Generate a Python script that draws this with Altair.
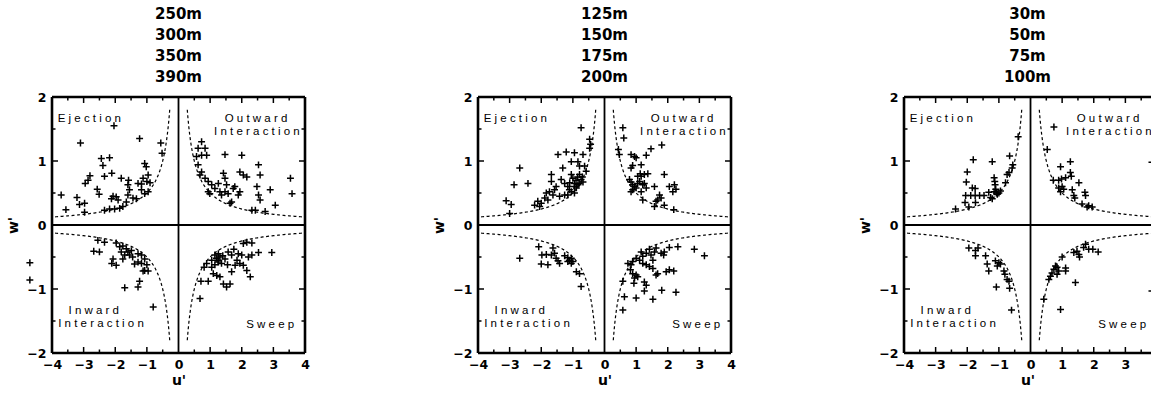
import altair as alt
import numpy as np
import pandas as pd

FONT = "DejaVu Sans"

titles = [["250m", "300m", "350m", "390m"],
          ["125m", "150m", "175m", "200m"],
          ["30m", "50m", "75m", "100m"]]

# ---------------- panel 1 (250-390 m) ----------------
u1 = [-3.71, -3.56, -3.21, -3.13, -2.97, -3.10, -2.97, -2.95, -2.86, -2.80, -2.57, -2.51, -2.44, -2.39, -2.18,
      -2.34, -2.04, -2.11, -2.34, -2.18, -2.02, -1.86, -1.76, -2.07, -1.97, -2.12, -1.91, -1.81, -1.65, -1.60,
      -1.55, -1.60, -1.58, -1.44, -1.33, -1.23, -1.28, -1.17, -1.07, -1.02, -1.12, -0.96, -1.17, -1.07, -0.96,
      -0.56, -0.52, -0.90, -1.00,
      0.73, 0.62, 0.84, 0.57, 0.73, 0.89, 1.47, 2.00, 0.62, 0.73, 0.68, 0.84, 0.94, 1.05, 0.94, 0.99, 1.26,
      1.15, 1.31, 1.42, 1.47, 1.36, 1.47, 1.57, 1.52, 1.73, 1.78, 1.63, 1.68, 1.89, 1.94, 1.94, 2.05, 2.16,
      2.32, 2.43, 2.74, 2.53, 2.58, 2.48, 2.53, 2.58, 2.90, 3.06, 3.54, 3.59,
      -2.55, -2.34, -2.68, -2.50, -1.97, -1.86, -1.76, -1.81, -1.70, -1.76, -2.07, -2.11, -1.97, -1.60, -1.49,
      -1.55, -1.28, -1.17, -1.07, -1.39, -1.28, -1.17, -1.07, -0.96, -1.23, -1.28, -1.70, -0.80, -1.65, -1.45,
      -1.00, -1.12,
      0.68, 0.71, 0.94, 0.81, 0.89, 1.05, 1.15, 1.26, 1.31, 1.10, 1.21, 1.31, 1.42, 1.52, 1.63, 1.47, 1.57,
      1.68, 1.68, 1.79, 1.89, 2.00, 2.05, 2.16, 2.32, 1.94, 2.05, 2.16, 2.27, 2.21, 2.32, 2.53, 2.95, 1.26,
      1.36, 1.05, 1.20, 1.25, 1.15, 1.40, 1.55, 1.85, 1.75,
      -4.70, -4.70]
w1 = [0.47, 0.24, 0.43, 0.32, 0.34, 1.28, 0.20, 0.65, 0.70, 0.77, 0.56, 0.48, 1.04, 0.93, 1.05,
      0.76, 1.55, 0.81, 0.23, 0.25, 0.25, 0.26, 0.29, 0.45, 0.44, 0.41, 0.39, 0.73, 0.36, 0.47,
      0.55, 0.63, 0.70, 0.42, 0.41, 1.35, 0.65, 0.64, 0.96, 0.91, 0.73, 0.78, 0.55, 0.49, 0.52,
      1.28, 1.12, 0.66, 0.68,
      1.30, 1.20, 1.20, 1.07, 1.09, 1.09, 1.10, 1.09, 0.94, 0.83, 0.78, 0.73, 0.68, 0.63, 0.52, 0.49, 0.65,
      0.57, 0.52, 0.81, 0.73, 0.47, 0.52, 0.49, 0.63, 0.57, 0.60, 0.34, 0.36, 0.47, 0.52, 0.83, 0.78, 0.75,
      0.23, 0.23, 0.21, 0.94, 0.78, 0.60, 0.47, 0.39, 0.55, 0.31, 0.73, 0.49,
      -0.24, -0.27, -0.41, -0.42, -0.28, -0.34, -0.33, -0.42, -0.47, -0.53, -0.53, -0.60, -0.63, -0.42, -0.40,
      -0.47, -0.45, -0.47, -0.53, -0.61, -0.58, -0.60, -0.71, -0.72, -0.88, -0.97, -0.98, -1.28, -0.37, -0.50,
      -0.62, -0.72,
      -1.15, -0.88, -0.88, -0.66, -0.60, -0.55, -0.47, -0.45, -0.50, -0.76, -0.79, -0.81, -0.92, -0.97, -0.92,
      -0.53, -0.42, -0.47, -0.73, -0.63, -0.45, -0.47, -0.29, -0.27, -0.28, -0.60, -0.63, -0.71, -0.81, -0.50,
      -0.47, -0.43, -0.43, -0.58, -0.60, -0.66, -0.52, -0.55, -0.62, -0.48, -0.62, -0.55, -0.38,
      -0.59, -0.86]

# ---------------- panel 2 (125-200 m) ----------------
u2 = [-3.11, -2.95, -3.00, -2.86, -2.68, -2.42, -2.21, -2.05, -2.11, -2.00, -1.89, -1.79, -1.84, -1.74, -1.63,
      -1.58, -1.68, -1.68, -1.53, -1.42, -1.26, -1.16, -1.47, -1.21, -0.95, -0.68, -1.32, -1.05, -0.84, -0.79,
      -1.37, -1.26, -1.16, -1.11, -1.05, -1.00, -0.95, -0.89, -0.84, -0.79, -0.74, -0.68, -1.05, -0.95, -0.63,
      -0.58, -0.74, -0.47, -0.44, -0.47, -0.90, -0.85, -0.80, -1.10, -0.95, -0.70,
      0.58, 0.61, 0.44, 0.47, 0.84, 0.95, 1.00, 0.89, 0.84, 1.16, 1.32, 1.47, 1.81, 1.13, 1.16, 1.37, 0.79,
      0.84, 0.89, 0.95, 0.89, 1.00, 1.05, 0.84, 1.11, 1.21, 1.26, 1.32, 1.16, 1.58, 1.89, 2.05, 2.21, 2.16,
      2.26, 1.21, 1.63, 1.68, 1.74, 1.79, 1.89, 1.58, 2.19, 1.05, 1.26,
      -2.68, -2.08, -1.98, -1.84, -2.00, -1.79, -1.63, -1.58, -1.68, -1.53, -1.47, -1.42, -1.26, -1.16, -1.11,
      -1.05, -1.16, -1.05, -1.00, -0.89, -0.79, -0.74,
      0.58, 0.63, 0.58, 1.00, 1.53, 1.81, 2.26, 1.26, 0.93, 1.26, 1.32, 0.82, 0.89, 1.00, 1.05, 0.95, 0.84,
      0.89, 1.00, 1.11, 1.21, 1.16, 1.32, 1.42, 1.58, 1.21, 1.32, 1.42, 1.47, 1.53, 1.63, 1.79, 1.87, 1.89,
      1.63, 1.68, 1.95, 2.05, 2.19, 2.05, 2.32, 2.84, 3.16, 1.53, 0.74]
w2 = [0.38, 0.32, 0.18, 0.63, 0.89, 0.65, 0.31, 0.29, 0.37, 0.34, 0.42, 0.39, 0.50, 0.52, 0.47,
      0.55, 0.79, 0.68, 0.60, 0.45, 0.47, 0.47, 1.10, 1.14, 1.13, 1.10, 0.89, 0.99, 0.99, 0.92,
      0.71, 0.65, 0.60, 0.55, 0.79, 0.73, 0.65, 0.58, 0.63, 0.79, 0.71, 0.67, 0.52, 0.50, 0.92,
      0.84, 1.52, 1.34, 1.26, 1.20, 0.70, 0.75, 0.65, 0.66, 0.60, 0.75,
      1.52, 1.36, 1.18, 1.10, 1.10, 1.07, 1.05, 0.93, 0.89, 0.94, 1.09, 1.19, 1.25, 0.80, 0.76, 0.80, 0.71,
      0.67, 0.63, 0.60, 0.55, 0.58, 0.65, 0.52, 0.68, 0.63, 0.65, 0.58, 0.52, 0.60, 0.79, 0.60, 0.63, 0.52,
      0.56, 0.39, 0.37, 0.39, 0.47, 0.42, 0.31, 0.29, 0.24, 0.76, 0.79,
      -0.52, -0.34, -0.47, -0.46, -0.61, -0.62, -0.36, -0.44, -0.47, -0.52, -0.56, -0.60, -0.48, -0.51, -0.55,
      -0.52, -0.57, -0.60, -0.57, -0.73, -0.76, -0.96,
      -0.88, -1.12, -1.33, -1.14, -1.16, -1.02, -1.05, -1.03, -0.91, -0.89, -0.94, -0.70, -0.76, -0.78, -0.81,
      -0.83, -0.62, -0.57, -0.52, -0.55, -0.49, -0.42, -0.44, -0.38, -0.42, -0.60, -0.62, -0.65, -0.47, -0.55,
      -0.36, -0.44, -0.47, -0.42, -0.78, -0.76, -0.73, -0.70, -0.72, -0.35, -0.34, -0.38, -0.48, -0.68, -0.60]

# ---------------- panel 3 (30-100 m) ----------------
u3 = [-2.37, -2.07, -1.95, -1.74, -2.05, -1.89, -1.75, -1.61, -1.47, -2.03, -2.00, -1.81, -1.21, -1.84, -1.75,
      -1.26, -1.21, -1.32, -1.15, -1.13, -1.12, -1.10, -1.15, -1.08, -1.05, -1.00, -0.95, -0.79, -0.74, -0.68,
      -0.66, -0.58, -0.56, -0.39,
      0.74, 0.53, 0.95, 1.26, 0.72, 0.89, 0.98, 1.11, 1.26, 1.29, 1.53, 0.89, 1.00, 1.05, 0.95, 1.32, 1.37,
      1.40, 1.72, 1.74, 1.63, 1.79, 1.95, 1.84, 3.84,
      -1.95, -1.74, -1.66, -1.74, -1.42, -1.37, -1.32, -1.11, -1.05, -1.00, -0.95, -0.84, -0.81, -0.74, -0.68,
      -1.08, -0.66, -0.60,
      0.42, 0.95, 1.42, 0.58, 0.63, 0.68, 0.74, 0.79, 0.84, 0.84, 0.89, 1.11, 1.11, 1.00, 1.37, 1.47, 1.53,
      1.55, 1.68, 1.74, 1.84, 1.97, 2.14, 3.84]
w3 = [0.25, 0.35, 0.28, 0.35, 0.46, 0.46, 0.46, 0.46, 0.46, 0.67, 0.83, 1.02, 0.99, 0.58, 0.57,
      0.43, 0.41, 0.51, 0.74, 0.68, 0.63, 0.56, 0.52, 0.50, 0.48, 0.50, 0.53, 0.66, 0.79, 0.82,
      1.08, 0.89, 0.94, 1.38,
      1.53, 1.18, 0.91, 0.99, 0.70, 0.70, 0.72, 0.74, 0.82, 0.76, 0.66, 0.58, 0.60, 0.56, 0.52, 0.55, 0.46,
      0.42, 0.51, 0.46, 0.33, 0.28, 0.28, 0.30, 0.98,
      -0.36, -0.40, -0.36, -0.48, -0.48, -0.61, -0.72, -0.56, -0.64, -0.59, -0.61, -0.72, -0.77, -0.85, -0.88,
      -0.97, -0.99, -1.33,
      -1.16, -1.32, -0.90, -0.85, -0.80, -0.75, -0.69, -0.64, -0.66, -0.77, -0.72, -0.67, -0.72, -0.50, -0.43,
      -0.41, -0.46, -0.50, -0.35, -0.30, -0.38, -0.38, -0.42, -1.03]

# axis values / tick marks
x_labels = [-4, -3, -2, -1, 0, 1, 2, 3, 4]
y_labels = [-2, -1, 0, 1, 2]
x_major = [-3, -2, -1, 1, 2, 3]
x_minor = [-3.5, -2.5, -1.5, -0.5, 0.5, 1.5, 2.5, 3.5]
y_major = [-1, 1]
y_minor = [-1.5, -0.5, 0.5, 1.5]
hole = 0.5          # hyperbolic hole size |u'w'| = H

# quadrant labels
lab_left_text = ["E j e c t i o n"]
lab_left_u = [-3.82]
lab_left_w = [1.66]
lab_text = ["O u t w a r d", "I n t e r a c t i o n", "I n w a r d", "I n t e r a c t i o n", "S w e e p"]
lab_u = [2.45, 2.48, -2.68, -2.45, 2.90]
lab_w = [1.66, 1.46, -1.35, -1.54, -1.57]

PX_PER_U = 31.6
PX_PER_W = 64.0
MAJ, MIN = 6.0, 3.5


def panel(title, us, ws, xmax, clip_points):
    width = round((xmax + 4) * PX_PER_U)
    xs = alt.Scale(domain=[-4, xmax], nice=False, zero=False)
    ys = alt.Scale(domain=[-2, 2], nice=False, zero=False)
    xax = alt.Axis(values=[v for v in x_labels if v <= xmax], title="u'", format="d")
    yax = alt.Axis(values=y_labels, title="w'", format="d")

    fr = [(-4, -4, -2, 2), (-4, min(4, xmax), -2, -2), (-4, min(4, xmax), 2, 2)]
    if xmax >= 4:
        fr.append((4, 4, -2, 2))
    frame_df = pd.DataFrame(fr, columns=["u", "u2", "w", "w2"])
    zero_df = pd.DataFrame([(0, 0, -2, 2), (-4, min(4, xmax), 0, 0)], columns=["u", "u2", "w", "w2"])

    tk = []
    lu_maj, lu_min = MAJ / PX_PER_U, MIN / PX_PER_U
    lw_maj, lw_min = MAJ / PX_PER_W, MIN / PX_PER_W
    for v in x_major:
        tk += [(v, v, -2, -2 + lw_maj), (v, v, 2, 2 - lw_maj)]
    for v in x_minor:
        tk += [(v, v, -2, -2 + lw_min), (v, v, 2, 2 - lw_min)]
    for v in y_major:
        tk.append((-4, -4 + lu_maj, v, v))
        if xmax >= 4:
            tk.append((4, 4 - lu_maj, v, v))
    for v in y_minor:
        tk.append((-4, -4 + lu_min, v, v))
        if xmax >= 4:
            tk.append((4, 4 - lu_min, v, v))
    tick_df = pd.DataFrame(tk, columns=["u", "u2", "w", "w2"])

    ub = np.geomspace(hole / 1.8, 4.0, 160)
    rows = []
    for b, (su, sw) in enumerate([(-1, 1), (1, 1), (-1, -1), (1, -1)]):
        for i, uu in enumerate(ub):
            rows.append((b, i, su * uu, sw * hole / uu))
    curve_df = pd.DataFrame(rows, columns=["b", "i", "u", "w"])

    pts_df = pd.DataFrame({"u": us, "w": ws})
    l_df = pd.DataFrame({"u": lab_u, "w": lab_w, "t": lab_text})
    ll_df = pd.DataFrame({"u": lab_left_u, "w": lab_left_w, "t": lab_left_text})

    X = alt.X("u:Q", scale=xs, axis=xax)
    Y = alt.Y("w:Q", scale=ys, axis=yax)

    frame = alt.Chart(frame_df).mark_rule(color="black", strokeWidth=2.6).encode(
        x=X, x2="u2:Q", y=Y, y2="w2:Q")
    zero = alt.Chart(zero_df).mark_rule(color="black", strokeWidth=1.8, clip=True).encode(
        x=X, x2="u2:Q", y=Y, y2="w2:Q")
    ticks = alt.Chart(tick_df).mark_rule(color="black", strokeWidth=1.5, clip=True).encode(
        x=X, x2="u2:Q", y=Y, y2="w2:Q")
    curve = alt.Chart(curve_df).mark_line(color="black", strokeWidth=1.2, strokeDash=[3, 2.5],
                                          clip=True).encode(
        x=X, y=Y, detail="b:N", order="i:Q")
    pts = alt.Chart(pts_df).mark_point(shape="M-1,0L1,0M0,-1L0,1", filled=False, color="black",
                                       strokeWidth=1.5, size=48, opacity=1, clip=clip_points).encode(x=X, y=Y)
    labs = alt.Chart(l_df).mark_text(font="Liberation Sans", fontSize=11.5, color="black",
                                     align="center", baseline="middle", clip=True).encode(x=X, y=Y, text="t:N")
    labs_l = alt.Chart(ll_df).mark_text(font="Liberation Sans", fontSize=11.5, color="black",
                                        align="left", baseline="middle", clip=True).encode(x=X, y=Y, text="t:N")

    return alt.layer(frame, zero, ticks, curve, pts, labs, labs_l).properties(
        width=width, height=256,
        title=alt.TitleParams(text=title, font=FONT, fontWeight="bold", fontSize=15, lineHeight=21,
                              offset=6, anchor="middle", color="black"))


p1 = panel(titles[0], u1, w1, 4, False)
p2 = panel(titles[1], u2, w2, 4, False)
p3 = panel(titles[2], u3, w3, 3.81, True)

chart = alt.hconcat(p1, p2, p3, spacing=173, bounds="flush").configure_view(stroke=None).configure_axis(
    domain=False, ticks=False, tickSize=0, grid=False, labelFlush=False,
    labelFont=FONT, labelFontWeight="bold", labelFontSize=12.5, labelColor="black", labelPadding=6,
    titleFont=FONT, titleFontWeight="bold", titleFontSize=14, titleColor="black", titlePadding=6
).configure_axisX(labelPadding=5, titlePadding=3).properties(
    padding={"left": 6, "top": 7, "right": 0, "bottom": 0}, background="white")

chart.save("out.html", embed_options={"renderer": "svg", "actions": False})
